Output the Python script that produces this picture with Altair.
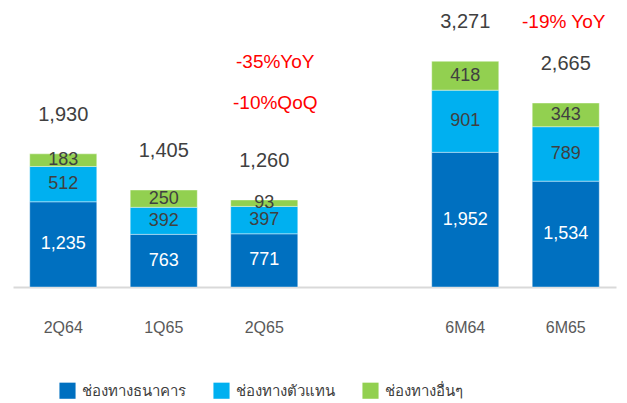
import altair as alt
import pandas as pd

categories = ["2Q64", "1Q65", "2Q65", "6M64", "6M65"]
slots = ["2Q64", "1Q65", "2Q65", " ", "6M64", "6M65"]
series = ["ช่องทางธนาคาร", "ช่องทางตัวแทน", "ช่องทางอื่นๆ"]
bank = [1235, 763, 771, 1952, 1534]
agent = [512, 392, 397, 901, 789]
other = [183, 250, 93, 418, 343]
totals = [1930, 1405, 1260, 3271, 2665]
colors = ["#0070C0", "#00B0F0", "#92D050"]
label_colors = ["#FFFFFF", "#404040", "#404040"]

ann_text = ["-35%YoY", "-10%QoQ"]
ann_cat = ["2Q65", "2Q65"]
ann_y = [3260, 2665]
ann2_text = ["-19% YoY"]
ann2_cat = ["6M65"]
ann2_y = [3840]

rows = []
for i, c in enumerate(categories):
    base = 0
    for j, (s, vals) in enumerate(zip(series, [bank, agent, other])):
        v = vals[i]
        rows.append({"cat": c, "series": s, "idx": j, "value": v,
                     "mid": base + v / 2, "label": f"{v:,}", "lc": label_colors[j]})
        base += v
df = pd.DataFrame(rows)
tot_df = pd.DataFrame({"cat": categories, "total": totals, "label": [f"{t:,}" for t in totals]})
ann_df = pd.DataFrame({"cat": ann_cat, "y": ann_y, "text": ann_text})
ann2_df = pd.DataFrame({"cat": ann2_cat, "y": ann2_y, "text": ann2_text})

FONT = "Liberation Sans"
xs = alt.X("cat:N", scale=alt.Scale(domain=slots, paddingInner=0.333, paddingOuter=0.1665),
           axis=alt.Axis(title=None, labelAngle=0, ticks=False, labelPadding=32, labelFontSize=16,
                         labelColor="#595959", labelFont=FONT, domainColor="#D9D9D9", domainWidth=2,
                         grid=False))
ys = alt.Scale(domain=[0, 4000], nice=False)
xsimple = alt.X("cat:N", scale=alt.Scale(domain=slots))

bars = alt.Chart(df).mark_bar(stroke="#FFFFFF", strokeWidth=0.4).encode(
    x=xs,
    y=alt.Y("value:Q", stack="zero", scale=ys, axis=None),
    color=alt.Color("series:N", scale=alt.Scale(domain=series, range=colors),
                    legend=alt.Legend(title=None, orient="none", direction="horizontal",
                                      legendX=46, legendY=371, symbolType="square", symbolSize=260,
                                      symbolStrokeWidth=0, labelFontSize=15, labelFont=FONT,
                                      labelColor="#404040", columnPadding=27, labelOffset=6)),
    order=alt.Order("idx:Q", sort="ascending"),
)

seg_labels = alt.Chart(df).mark_text(fontSize=18, font=FONT, baseline="middle").encode(
    x=xsimple,
    y=alt.Y("mid:Q", scale=ys),
    text="label:N",
    color=alt.Color("lc:N", scale=None),
)

tot_labels = alt.Chart(tot_df).mark_text(fontSize=20, font=FONT, baseline="middle", dy=-39,
                                         color="#404040").encode(
    x=xsimple,
    y=alt.Y("total:Q", scale=ys),
    text="label:N",
)

ann = alt.Chart(ann_df).mark_text(fontSize=19, font=FONT, baseline="middle", color="#FF0000", dx=11).encode(
    x=xsimple,
    y=alt.Y("y:Q", scale=ys),
    text="text:N",
)
ann2 = alt.Chart(ann2_df).mark_text(fontSize=19, font=FONT, baseline="middle", color="#FF0000", dx=-2).encode(
    x=xsimple,
    y=alt.Y("y:Q", scale=ys),
    text="text:N",
)

chart = alt.layer(bars, seg_labels, tot_labels, ann, ann2).properties(
    width=603, height=276,
    autosize=alt.AutoSizeParams(type="none"),
    padding={"left": 13, "top": 11, "right": 11, "bottom": 116},
).configure_view(stroke=None)

chart.save("out.html", embed_options={"renderer": "svg", "actions": False})
